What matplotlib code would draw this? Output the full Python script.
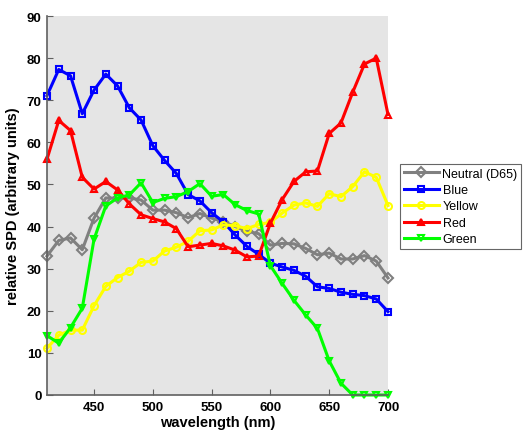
import matplotlib
matplotlib.use("Agg")
import matplotlib.pyplot as plt

plt.rcParams['font.family'] = ['Liberation Sans', 'DejaVu Sans']

wavelength = list(range(410, 701, 10))
neutral = [33.0, 36.7, 37.3, 34.5, 42.0, 46.8, 46.7, 46.8, 46.3, 43.9,
           43.9, 43.3, 42.1, 43.1, 42.0, 41.2, 40.0, 38.9, 38.3, 35.6,
           36.0, 35.9, 34.8, 33.3, 33.7, 32.3, 32.3, 33.1, 31.8, 27.8]
blue = [71.1, 77.3, 75.8, 66.8, 72.4, 76.2, 73.4, 68.2, 65.3, 59.2,
        55.7, 52.6, 47.6, 46.1, 43.3, 41.1, 38.0, 35.3, 33.4, 31.3,
        30.4, 29.6, 28.2, 25.7, 25.3, 24.4, 23.9, 23.6, 22.8, 19.8]
yellow = [11.1, 14.2, 15.4, 15.4, 21.2, 25.8, 27.9, 29.4, 31.5, 31.8,
          34.2, 35.1, 36.5, 39.0, 39.2, 40.4, 40.2, 39.5, 40.5, 41.0,
          43.2, 45.1, 45.6, 44.8, 47.8, 47.1, 49.5, 53.0, 51.7, 45.0]
red = [56.0, 65.2, 62.8, 51.7, 48.9, 50.7, 48.7, 45.4, 42.8, 41.9,
       41.1, 39.5, 35.2, 35.6, 36.0, 35.4, 34.4, 32.8, 33.0, 40.8,
       46.4, 50.7, 53.0, 53.2, 62.1, 64.6, 71.9, 78.6, 80.0, 66.6]
green = [14.1, 12.3, 16.0, 20.6, 37.0, 44.9, 46.8, 47.5, 50.4, 45.7,
         46.7, 47.1, 48.3, 50.2, 47.2, 47.6, 45.2, 43.8, 43.0, 30.7,
         26.5, 22.5, 19.0, 15.8, 8.1, 2.8, 0.0, 0.0, 0.0, 0.0]

series = [
    ("Neutral (D65)", neutral, "#808080", "D"),
    ("Blue", blue, "#0000ff", "s"),
    ("Yellow", yellow, "#ffff00", "o"),
    ("Red", red, "#ff0000", "^"),
    ("Green", green, "#00ff00", "v"),
]

fig = plt.figure(figsize=(5.25, 4.31), dpi=100)
ax = fig.add_axes([47/525, 35/431, (388-47)/525, (396-17)/431])
ax.set_facecolor("#e5e5e5")

for name, vals, col, mk in series:
    ax.plot(wavelength, vals, color=col, marker=mk, markersize=5,
            markerfacecolor="none", markeredgewidth=1.5, linewidth=2.2,
            label=name, clip_on=False)

ax.set_xlim(410, 700)
ax.set_ylim(0, 90)
ax.set_xticks([450, 500, 550, 600, 650, 700])
ax.set_yticks(range(0, 91, 10))
for s in ["top", "right"]:
    ax.spines[s].set_visible(False)
for s in ["left", "bottom"]:
    ax.spines[s].set_color("#606060")
    ax.spines[s].set_linewidth(1.2)
ax.tick_params(direction="in", length=4, color="#606060", labelsize=9.5, pad=4)
for lab in ax.get_xticklabels() + ax.get_yticklabels():
    lab.set_fontweight("bold")
ax.set_xlabel("wavelength (nm)", fontsize=10.5, fontweight="bold", labelpad=2)
ax.set_ylabel("relative SPD (arbitrary units)", fontsize=10.5, fontweight="bold", labelpad=5)

leg = fig.legend(loc="lower left", bbox_to_anchor=(400/525, 181/431),
                 fontsize=9, frameon=True, fancybox=False, handlelength=2.8,
                 borderpad=0.3, labelspacing=0.35, handletextpad=0.3,
                 borderaxespad=0)
leg.get_frame().set_edgecolor("#404040")
leg.get_frame().set_linewidth(0.8)

fig.savefig("out.png", dpi=100)
